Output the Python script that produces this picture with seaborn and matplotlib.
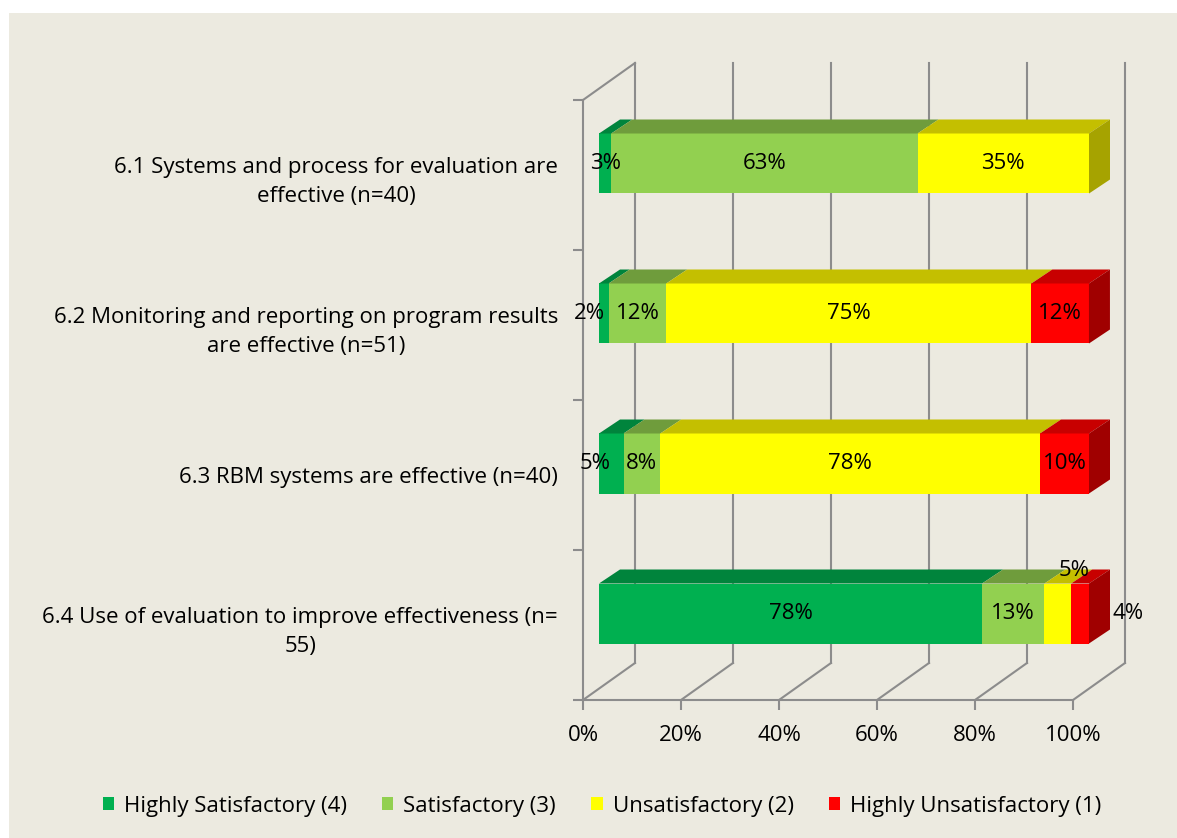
import matplotlib
matplotlib.use("Agg")
import matplotlib.pyplot as plt
import numpy as np
import pandas as pd
import seaborn as sns
from matplotlib.patches import Patch, Polygon, Rectangle

# --- data -------------------------------------------------------------
questions = [
    "6.1 Systems and process for evaluation are\neffective (n=40)",
    "6.2 Monitoring and reporting on program results\nare effective (n=51)",
    "6.3 RBM systems are effective (n=40)",
    "6.4 Use of evaluation to improve effectiveness (n=\n55)",
]
ratings = [
    "Highly Satisfactory (4)",
    "Satisfactory (3)",
    "Unsatisfactory (2)",
    "Highly Unsatisfactory (1)",
]
highly_satisfactory = [2.5, 1.96, 5.0, 78.18]
satisfactory = [62.5, 11.76, 7.5, 12.73]
unsatisfactory = [35.0, 74.51, 77.5, 5.45]
highly_unsatisfactory = [0.0, 11.76, 10.0, 3.64]
x_ticks = [0, 20, 40, 60, 80, 100]

# --- style ------------------------------------------------------------
BG = "#ECEAE0"
GRID = "#8C8C8C"
front_colors = ["#00B050", "#92D050", "#FFFF00", "#FF0000"]
top_colors = ["#00843C", "#6F9C3C", "#C4BF00", "#C80000"]
side_colors = ["#007534", "#5E8A30", "#A6A300", "#A00000"]

plt.rcParams["font.family"] = ["Open Sans", "DejaVu Sans"]
FS = 16

W, H = 1177, 838
AX_L, AX_B, AX_W, AX_H = 583, 138, 490, 600   # front plane, in pixels
PX_X = 100 / AX_W          # data units per pixel
PX_Y = 4 / AX_H
DEPTH = (52, 37)           # depth of the 3-D box, pixels (right, up)
BAR_FRONT = (16, 11.5)
BAR_BACK = (37, 25.5)

values = np.array([highly_satisfactory, satisfactory, unsatisfactory,
                   highly_unsatisfactory]).T
cum = values.cumsum(axis=1)

df = pd.DataFrame({
    "question": np.repeat(questions, len(ratings)),
    "rating": ratings * len(questions),
    "value": values.ravel(),
    "cum": cum.ravel(),
})

fig = plt.figure(figsize=(W / 100, H / 100), dpi=100, facecolor="white")
fig.add_artist(Rectangle((9 / W, 0), 1, (H - 13) / H, transform=fig.transFigure,
                         facecolor=BG, edgecolor="none", zorder=-10))
ax = fig.add_axes([AX_L / W, AX_B / H, AX_W / W, AX_H / H])
ax.set_facecolor("none")

# front faces: stacked by drawing cumulative totals from the last series down
for j in range(len(ratings) - 1, -1, -1):
    sub = df[df["rating"] == ratings[j]]
    sns.barplot(data=sub, x="cum", y="question", order=questions, orient="h",
                color=front_colors[j], saturation=1, width=0.4, linewidth=0,
                errorbar=None, ax=ax, zorder=3)
for p in ax.patches:
    p.set_x(p.get_x() + BAR_FRONT[0] * PX_X)
    p.set_y(p.get_y() - BAR_FRONT[1] * PX_Y)
    p.set_clip_on(False)

ax.set_xlim(0, 100)
ax.set_ylim(3.5, -0.5)

# 3-D box: back wall grid, floor and left wall
dx, dy = DEPTH[0] * PX_X, -DEPTH[1] * PX_Y
for t in x_ticks:
    ax.plot([t + dx, t + dx], [3.5 + dy, -0.5 + dy], color=GRID, lw=1.5,
            clip_on=False, zorder=0)
    ax.plot([t, t + dx], [3.5, 3.5 + dy], color=GRID, lw=1.5,
            clip_on=False, zorder=0)
ax.plot([0, dx], [-0.5, -0.5 + dy], color=GRID, lw=1.5, clip_on=False, zorder=0)

# top and side faces of the bars
fx, fy = BAR_FRONT[0] * PX_X, -BAR_FRONT[1] * PX_Y
bx, by = BAR_BACK[0] * PX_X, -BAR_BACK[1] * PX_Y
for i in range(len(questions)):
    top = i - 0.2
    bottom = i + 0.2
    start = 0
    last = None
    for j in range(len(ratings)):
        v = values[i, j]
        if v <= 0:
            continue
        x0, x1 = start, start + v
        ax.add_patch(Polygon([(x0 + fx, top + fy), (x1 + fx, top + fy),
                              (x1 + bx, top + by), (x0 + bx, top + by)],
                             closed=True, facecolor=top_colors[j],
                             edgecolor="none", clip_on=False, zorder=3))
        last = j
        start = x1
    ax.add_patch(Polygon([(start + fx, top + fy), (start + bx, top + by),
                          (start + bx, bottom + by), (start + fx, bottom + fy)],
                         closed=True, facecolor=side_colors[last],
                         edgecolor="none", clip_on=False, zorder=3))

# value labels (a few tiny segments get their label nudged, as in the original)
nudges = {(1, 0): (-14, 0), (2, 0): (-16, 0), (3, 2): (16, 43), (3, 3): (48, 0)}
for i in range(len(questions)):
    start = 0
    for j in range(len(ratings)):
        v = values[i, j]
        if v <= 0:
            continue
        ox, oy = nudges.get((i, j), (0, 0))
        cx = start + v / 2 + (BAR_FRONT[0] + ox) * PX_X
        cy = i - (BAR_FRONT[1] + oy) * PX_Y
        ax.text(cx, cy, f"{int(v + 0.5)}%", ha="center", va="center",
                fontsize=FS, color="black", zorder=5, clip_on=False)
        start += v

# axes cosmetics
for s in ["top", "right"]:
    ax.spines[s].set_visible(False)
for s in ["left", "bottom"]:
    ax.spines[s].set_color(GRID)
    ax.spines[s].set_linewidth(1.5)
    ax.spines[s].set_zorder(0)
ax.set_xticks(x_ticks, labels=[f"{t}%" for t in x_ticks])
ax.set_yticks(range(len(questions)), labels=questions)
ax.set_yticks(np.arange(-0.5, len(questions), 1), minor=True)
ax.set_xlabel("")
ax.set_ylabel("")
ax.tick_params(axis="x", length=7, width=1.5, color=GRID, labelsize=FS, pad=11)
ax.tick_params(axis="y", which="major", length=0, labelsize=FS, pad=18)
ax.tick_params(axis="y", which="minor", length=7, width=1.5, color=GRID)
for lab in ax.get_yticklabels():
    lab.set_multialignment("center")
    lab.set_linespacing(1.55)

handles = [Patch(facecolor=c, edgecolor="none", label=r)
           for c, r in zip(front_colors, ratings)]
fig.legend(handles=handles, loc="center", bbox_to_anchor=(602 / W, 1 - 806 / H),
           ncol=4, frameon=False, fontsize=FS, handlelength=0.5,
           handleheight=0.5, handletextpad=0.45, columnspacing=1.6)

fig.savefig("out.png", dpi=100, facecolor="white")
